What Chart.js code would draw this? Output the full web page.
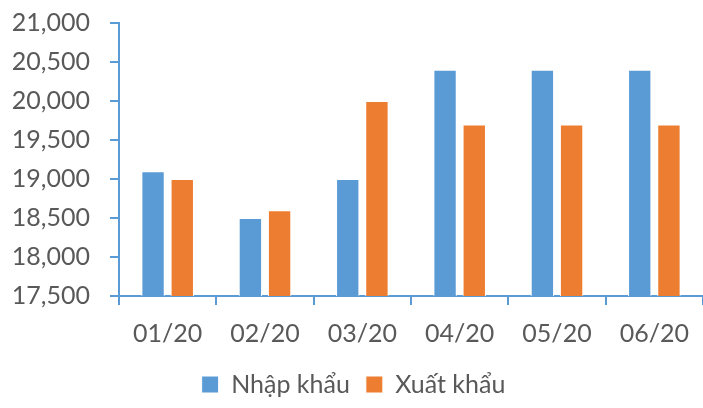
<!DOCTYPE html>
<html>
<head>
<meta charset="utf-8">
<script src="https://cdn.jsdelivr.net/npm/chart.js@4/dist/chart.umd.min.js"></script>
<style>
  html, body { margin: 0; padding: 0; background: #fff; }
  #wrap { width: 703px; height: 408px; position: relative; }
</style>
</head>
<body>
<div id="wrap"><canvas id="myChart"></canvas></div>
<script>
// data
var months = ['01/20', '02/20', '03/20', '04/20', '05/20', '06/20'];
var nhapKhau = [19100, 18500, 19000, 20400, 20400, 20400];
var xuatKhau = [19000, 18600, 20000, 19700, 19700, 19700];
var yMin = 17500, yMax = 21000, yStep = 500;

var axisColour = '#5B9BD5';
var textColour = '#595959';
Chart.defaults.font.family = 'Lato, "Open Sans", sans-serif';

let ctx = document.getElementById('myChart').getContext('2d');
let barChart = new Chart(ctx, {
  type: 'bar',
  data: {
    labels: months,
    datasets: [
      {
        label: 'Nhập khẩu',
        data: nhapKhau,
        backgroundColor: '#5B9BD5',
        borderColor: '#ffffff',
        borderWidth: 1
      },
      {
        label: 'Xuất khẩu',
        data: xuatKhau,
        backgroundColor: '#ED7D31',
        borderColor: '#ffffff',
        borderWidth: 1
      }
    ]
  },
  options: {
    responsive: true,
    maintainAspectRatio: false,
    animation: false,
    categoryPercentage: 0.6,
    barPercentage: 0.8,
    layout: { padding: { top: 23, right: 0, left: 4, bottom: 1 } },
    plugins: {
      tooltip: { enabled: false },
      legend: {
        position: 'bottom',
        labels: {
          color: textColour,
          font: { size: 25 },
          boxWidth: 17,
          boxHeight: 17,
          padding: 16
        }
      }
    },
    scales: {
      x: {
        grid: { drawOnChartArea: false, drawTicks: true, tickLength: 9, color: axisColour, lineWidth: 2 },
        border: { color: axisColour, width: 2 },
        ticks: { color: textColour, font: { size: 25 }, padding: 14, maxRotation: 0 },
        afterFit: function(scale) { scale.height = 60; }
      },
      y: {
        min: yMin,
        max: yMax,
        grid: { drawOnChartArea: false, drawTicks: true, tickLength: 9, color: axisColour, lineWidth: 2 },
        border: { color: axisColour, width: 2 },
        ticks: {
          stepSize: yStep,
          color: textColour,
          font: { size: 25 },
          padding: 20,
          callback: function(v) { return v.toLocaleString('en-US'); }
        },
        afterFit: function(scale) {
          scale.width = 115;
          scale.paddingTop = 0;
        }
      }
    }
  }
});
</script>
</body>
</html>
